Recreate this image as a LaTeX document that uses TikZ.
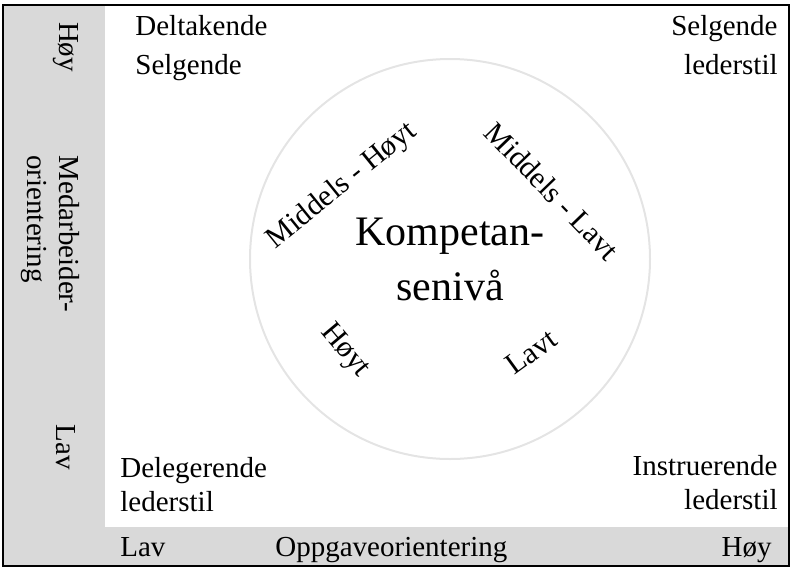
\documentclass[tikz,border=0pt]{standalone}
\usepackage{fontspec}
\setmainfont{Liberation Serif}
\usepackage{tikz}
\definecolor{bandgray}{RGB}{217, 217, 217}
\definecolor{ringgray}{RGB}{228, 228, 228}

\begin{document}
\begin{tikzpicture}[
  x=0.5pt, y=-0.5pt,
  band/.style={fill=bandgray},
  frame/.style={draw=black, line width=1.2pt},
  ring/.style={circle, draw=ringgray, line width=1pt, minimum size=200pt,
               inner sep=0pt, align=center, font=\fontsize{21}{27.5}\selectfont},
  corner/.style={inner sep=0pt, font=\fontsize{14.5}{19.5}\selectfont},
  lowcorner/.style={inner sep=0pt, font=\fontsize{14.5}{17}\selectfont},
  axislbl/.style={inner sep=0pt, font=\fontsize{14.5}{16}\selectfont},
  tag/.style={inner sep=0pt, font=\fontsize{15}{18}\selectfont}
]
  \useasboundingbox (0,0) rectangle (792,568);

  \fill[band] (3,5) rectangle (105,566);
  \fill[band] (3,527) rectangle (789,566);
  \draw[frame] (3,5) rectangle (789,566);

  \node[ring] (komp) at (450,259) {Kompetan-\\senivå};

  \node[tag, rotate=39]  (midhoy) at (342,186) {Middels - Høyt};
  \node[tag, rotate=-46] (midlav) at (552,191) {Middels - Lavt};
  \node[tag, rotate=-50] (hoyt)   at (345,351) {Høyt};
  \node[tag, rotate=36]  (lavt)   at (531,352) {Lavt};

  \node[corner, align=left, anchor=north west]  (deltak) at (135,15)  {Deltakende\\Selgende};
  \node[corner, align=right, anchor=north east] (selg)   at (778,15)  {Selgende\\lederstil};
  \node[lowcorner, align=left, anchor=north west]  (deleg) at (120,457) {Delegerende\\lederstil};
  \node[lowcorner, align=right, anchor=north east] (instr) at (778,455) {Instruerende\\lederstil};

  \node[axislbl, anchor=base west] (xlav)  at (120,556) {Lav};
  \node[axislbl, anchor=base west] (xname) at (275,556) {Oppgaveorientering};
  \node[axislbl, anchor=base east] (xhoy)  at (772,556) {Høy};

  \node[axislbl, rotate=-90] (yhoy) at (66,47)  {Høy};
  \node[axislbl, rotate=-90] (ylav) at (66,447) {Lav};
  \node[axislbl, rotate=-90, align=left, anchor=north west] (yname) at (80,155) {Medarbeider-\\orientering};
\end{tikzpicture}
\end{document}
